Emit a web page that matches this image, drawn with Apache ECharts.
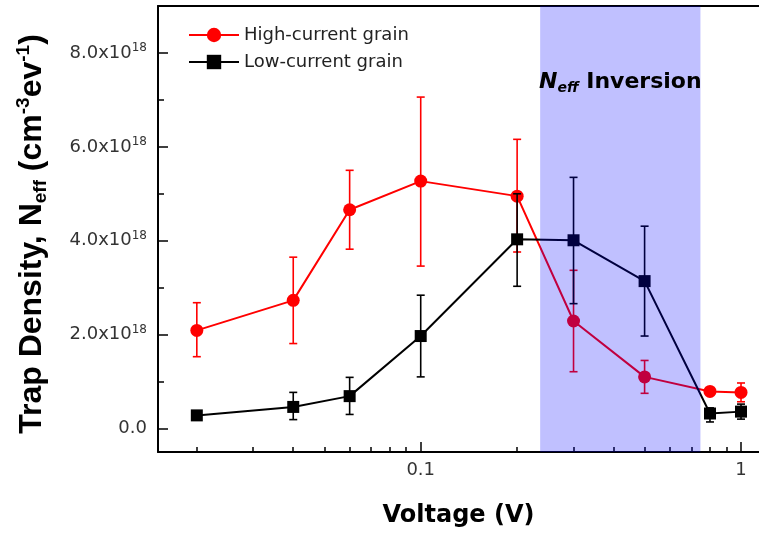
<!DOCTYPE html>
<html>
<head>
<meta charset="utf-8">
<style>html,body{margin:0;padding:0;background:#fff;}#c{width:759px;height:535px;}</style>
<script src="https://cdn.jsdelivr.net/npm/echarts@6/dist/echarts.min.js"></script>
</head>
<body>
<div id="c"></div>
<script>
// Data (y values in units of 1e18 cm^-3 eV^-1)
const voltage = [0.02, 0.04, 0.06, 0.1, 0.2, 0.3, 0.5, 0.8, 1.0];
const highCurrent = [2.09, 2.73, 4.66, 5.27, 4.95, 2.29, 1.10, 0.79, 0.77];
const highErrTop  = [2.68, 3.65, 5.50, 7.06, 6.16, 3.37, 1.45, 0.84, 0.97];
const highErrBot  = [1.53, 1.81, 3.82, 3.46, 3.76, 1.21, 0.75, 0.74, 0.57];
const lowCurrent  = [0.28, 0.46, 0.69, 1.97, 4.03, 4.01, 3.14, 0.32, 0.36];
const lowErrTop   = [0.33, 0.77, 1.09, 2.84, 5.00, 5.35, 4.31, 0.44, 0.52];
const lowErrBot   = [0.23, 0.19, 0.30, 1.10, 3.03, 2.66, 1.97, 0.14, 0.20];
const inversionRange = [0.236, 0.747];
const yTickValues = [0, 2, 4, 6, 8];
const yMinorValues = [1, 3, 5, 7];
const xTickValues = [0.1, 1];
const xMinorValues = [0.02, 0.03, 0.04, 0.05, 0.06, 0.07, 0.08, 0.09, 0.2, 0.3, 0.4, 0.5, 0.6, 0.7, 0.8, 0.9];

const XMIN = 0.01513, XMAX = 1.138, YMIN = -0.5, YMAX = 9.0;
const F = 'DejaVu Sans';

function errSeries(name, top, bot, color, z) {
  return {
    type: 'custom', name: name + ' err', xAxisIndex: 0, yAxisIndex: 0, z: z,
    data: voltage.map((v, i) => [v, bot[i], top[i]]),
    encode: { x: 0, y: [1, 2] },
    silent: true,
    renderItem: function (params, api) {
      const x = api.value(0), lo = api.value(1), hi = api.value(2);
      const p1 = api.coord([x, hi]), p2 = api.coord([x, lo]);
      const w = 4, st = { stroke: color, lineWidth: 1.6 };
      return { type: 'group', children: [
        { type: 'line', shape: { x1: p1[0], y1: p1[1], x2: p2[0], y2: p2[1] }, style: st },
        { type: 'line', shape: { x1: p1[0] - w, y1: p1[1], x2: p1[0] + w, y2: p1[1] }, style: st },
        { type: 'line', shape: { x1: p2[0] - w, y1: p2[1], x2: p2[0] + w, y2: p2[1] }, style: st }
      ]};
    }
  };
}

const chart = echarts.init(document.getElementById('c'), null, { renderer: 'canvas' });
const yLabelFmt = v => v === 0 ? '{a|0.0}' : '{a|' + v.toFixed(1) + 'x10}{b|18}';

chart.setOption({
  animation: false,
  backgroundColor: '#fff',
  grid: { left: 158, right: 0, top: 6, bottom: 83, containLabel: false, outerBoundsMode: 'none' },
  legend: {
    orient: 'vertical', left: 188, top: 25, padding: 0,
    itemWidth: 50, itemHeight: 18, itemGap: 7, itemTextGap: 6,
    data: ['High-current grain', 'Low-current grain'],
    textStyle: { fontFamily: F, fontSize: 18, color: '#222', lineHeight: 20 }
  },
  xAxis: [
    {
      type: 'log', min: XMIN, max: XMAX, position: 'bottom',
      name: 'Voltage (V)', nameLocation: 'middle', nameGap: 52,
      nameTextStyle: { fontFamily: F, fontSize: 24, fontWeight: 'bold', color: '#000' },
      axisLine: { show: true, onZero: false, lineStyle: { color: '#000', width: 2 } },
      axisTick: { show: true, inside: true, length: 10, customValues: xTickValues, lineStyle: { color: '#000', width: 1.5 } },
      axisLabel: { customValues: xTickValues, margin: 9, fontFamily: F, fontSize: 18, color: '#333', formatter: v => String(v) },
      splitLine: { show: false }, minorTick: { show: false }, minorSplitLine: { show: false }
    },
    {
      type: 'log', min: XMIN, max: XMAX, position: 'bottom',
      axisLine: { show: false, onZero: false },
      axisTick: { show: true, inside: true, length: 5, customValues: xMinorValues, lineStyle: { color: '#000', width: 1.5 } },
      axisLabel: { show: false }, splitLine: { show: false }
    },
    {
      type: 'value', min: 0, max: 1, position: 'top',
      axisLine: { show: true, onZero: false, lineStyle: { color: '#000', width: 2 } },
      axisTick: { show: false }, axisLabel: { show: false }, splitLine: { show: false }
    }
  ],
  yAxis: [
    {
      type: 'value', min: YMIN, max: YMAX, position: 'left',
      name: '{m|Trap Density, N}{s|eff}{m| (cm}{u|-3}{m|ev}{u|-1}{m|)}',
      nameLocation: 'middle', nameGap: 108,
      nameTextStyle: {
        fontFamily: 'Liberation Sans', fontWeight: 'bold', color: '#000', fontSize: 32,
        padding: [0, 10, 0, 0],
        rich: {
          m: { fontFamily: 'Liberation Sans', fontWeight: 'bold', fontSize: 32, color: '#000', lineHeight: 36 },
          s: { fontFamily: 'Liberation Sans', fontWeight: 'bold', fontSize: 19, color: '#000', verticalAlign: 'bottom', lineHeight: 19 },
          u: { fontFamily: 'Liberation Sans', fontWeight: 'bold', fontSize: 19, color: '#000', verticalAlign: 'top', lineHeight: 19 }
        }
      },
      axisLine: { show: true, onZero: false, lineStyle: { color: '#000', width: 2 } },
      axisTick: { show: true, inside: true, length: 10, customValues: yTickValues, lineStyle: { color: '#000', width: 1.5 } },
      axisLabel: {
        customValues: yTickValues, margin: 11, formatter: yLabelFmt,
        rich: {
          a: { fontFamily: F, fontSize: 18, color: '#333', lineHeight: 22 },
          b: { fontFamily: F, fontSize: 12, color: '#333', verticalAlign: 'top', lineHeight: 12 }
        }
      },
      splitLine: { show: false }
    },
    {
      type: 'value', min: YMIN, max: YMAX, position: 'left',
      axisLine: { show: false, onZero: false },
      axisTick: { show: true, inside: true, length: 6, customValues: yMinorValues, lineStyle: { color: '#000', width: 1.5 } },
      axisLabel: { show: false }, splitLine: { show: false }
    }
  ],
  series: [
    {
      name: 'High-current grain', type: 'line', xAxisIndex: 0, yAxisIndex: 0, z: 3,
      data: voltage.map((v, i) => [v, highCurrent[i]]),
      symbol: 'circle', symbolSize: 13,
      lineStyle: { color: '#ff0000', width: 2 }, itemStyle: { color: '#ff0000' }
    },
    errSeries('High-current grain', highErrTop, highErrBot, '#ff0000', 3),
    {
      name: 'Low-current grain', type: 'line', xAxisIndex: 0, yAxisIndex: 0, z: 4,
      data: voltage.map((v, i) => [v, lowCurrent[i]]),
      symbol: 'rect', symbolSize: 12,
      lineStyle: { color: '#000', width: 2 }, itemStyle: { color: '#000' }
    },
    errSeries('Low-current grain', lowErrTop, lowErrBot, '#000', 4),
    {
      type: 'custom', name: 'inversion', xAxisIndex: 0, yAxisIndex: 0, z: 10, silent: true,
      data: [inversionRange],
      encode: { x: [0, 1] },
      renderItem: function (params, api) {
        const cs = params.coordSys;
        const x0 = api.coord([api.value(0), 0])[0];
        const x1 = api.coord([api.value(1), 0])[0];
        return { type: 'group', children: [
          { type: 'rect', shape: { x: x0, y: cs.y, width: x1 - x0, height: cs.height },
            style: { fill: 'rgba(0,0,255,0.248)' } },
          { type: 'text', z2: 10, style: {
              text: '{n|N}{e|eff}{b| Inversion}', x: (x0 + x1) / 2, y: cs.y + 76,
              align: 'center', verticalAlign: 'middle',
              rich: {
                n: { fontFamily: F, fontSize: 22, fontWeight: 'bold', fontStyle: 'italic', fill: '#000', lineHeight: 26 },
                e: { fontFamily: F, fontSize: 14, fontWeight: 'bold', fontStyle: 'italic', fill: '#000', verticalAlign: 'bottom', lineHeight: 14 },
                b: { fontFamily: F, fontSize: 22, fontWeight: 'bold', fill: '#000', lineHeight: 26 }
              }
          } }
        ]};
      }
    }
  ]
});
</script>
</body>
</html>
